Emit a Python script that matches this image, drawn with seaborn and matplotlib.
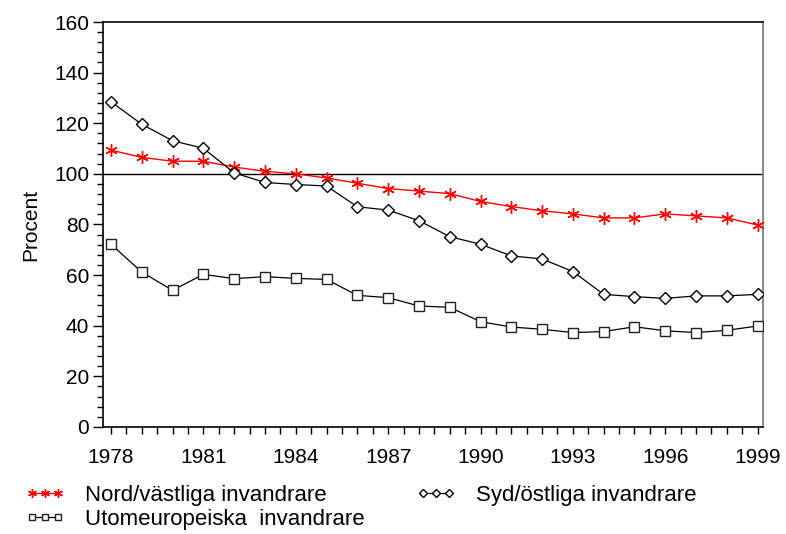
import numpy as np
import pandas as pd
import seaborn as sns
import matplotlib
matplotlib.use("Agg")
import matplotlib.pyplot as plt
from matplotlib.ticker import MultipleLocator

years = list(range(1978, 2000))
nord = [109.4, 106.5, 105.0, 105.0, 102.7, 101.0, 100.0, 98.4, 96.3, 94.2, 93.2, 92.2,
        89.1, 87.1, 85.4, 84.2, 82.6, 82.6, 84.2, 83.4, 82.6, 79.8]
syd = [128.5, 119.6, 113.1, 110.1, 100.4, 96.6, 95.8, 95.2, 87.0, 85.7, 81.5, 75.2,
       72.2, 67.6, 66.4, 61.4, 52.4, 51.5, 50.8, 51.8, 51.8, 52.4]
utom = [72.2, 61.2, 54.0, 60.3, 58.6, 59.4, 58.7, 58.3, 52.0, 51.1, 47.8, 47.3,
        41.6, 39.5, 38.6, 37.3, 37.7, 39.6, 38.0, 37.3, 38.2, 39.9]
labels = ["Nord/västliga invandrare", "Utomeuropeiska  invandrare", "Syd/östliga invandrare"]

sns.set_style("ticks")
plt.rcParams["font.family"] = ["Liberation Sans", "DejaVu Sans"]
plt.rcParams["text.color"] = "black"
plt.rcParams["axes.labelcolor"] = "black"
plt.rcParams["xtick.color"] = "black"
plt.rcParams["ytick.color"] = "black"

fig = plt.figure(figsize=(7.86, 5.34), dpi=100)
ax = fig.add_axes([0.131, 0.2004, 0.84, 0.7584])

ax.axhline(100, color="black", lw=1.0, zorder=1)

sns.lineplot(x=years, y=nord, ax=ax, color="red", lw=1.0, marker=(6, 2, 0),
             markersize=9, markeredgecolor="red", markeredgewidth=1.0,
             label=labels[0], zorder=3)
sns.lineplot(x=years, y=utom, ax=ax, color="black", lw=0.9, marker="s",
             markersize=7, markerfacecolor="white", markeredgecolor="#222222",
             markeredgewidth=1.0, label=labels[1], zorder=3)
sns.lineplot(x=years, y=syd, ax=ax, color="black", lw=0.9, marker="D",
             markersize=6, markerfacecolor="white", markeredgecolor="black",
             markeredgewidth=1.0, label=labels[2], zorder=3)

ax.set_xlim(1977.74, 1999.18)
ax.set_ylim(0, 160)
ax.set_xticks(range(1978, 2000, 3))
ax.set_xticks(np.arange(1978, 1999.01, 0.5), minor=True)
ax.yaxis.set_major_locator(MultipleLocator(20))
ax.yaxis.set_minor_locator(MultipleLocator(4))
ax.tick_params(axis="both", which="major", labelsize=15, colors="black", width=1.0)
ax.tick_params(axis="y", which="major", length=7, pad=3)
ax.tick_params(axis="y", which="minor", length=4, width=1.0, color="black")
ax.tick_params(axis="x", which="major", length=5, pad=10)
ax.tick_params(axis="x", which="minor", length=5, width=1.0, color="black")
ax.set_ylabel("Procent", fontsize=15, labelpad=10, color="black")
ax.set_xlabel("")

for side in ["left", "bottom", "top"]:
    ax.spines[side].set_visible(True)
    ax.spines[side].set_color("black")
    ax.spines[side].set_linewidth(1.2)
ax.spines["right"].set_visible(True)
ax.spines["right"].set_color("#777777")
ax.spines["right"].set_linewidth(1.2)

ax.get_legend().remove()
handles, lbls = ax.get_legend_handles_labels()
fig.legend(handles, lbls, loc="upper left", bbox_to_anchor=(0.032, 0.092),
           ncol=2, frameon=False, fontsize=16, numpoints=3, markerscale=0.7,
           handlelength=1.8, handletextpad=0.9, columnspacing=2.3,
           labelspacing=0.12, borderaxespad=0, borderpad=0)

fig.savefig("out.png", dpi=100)
